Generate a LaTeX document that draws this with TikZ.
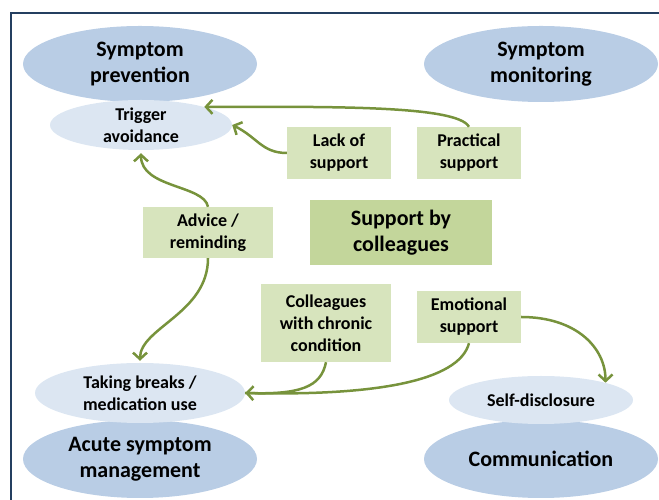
\documentclass[tikz,border=0pt]{standalone}
\usepackage{fontspec}
\setmainfont{Carlito}
\usetikzlibrary{shapes.geometric,arrows.meta}
\definecolor{bigell}{HTML}{B9CDE5}
\definecolor{smallell}{HTML}{DCE6F2}
\definecolor{boxfill}{HTML}{D7E4BD}
\definecolor{mainbox}{HTML}{C3D69B}
\definecolor{arrowc}{HTML}{77933C}
\definecolor{framec}{HTML}{243F60}
\tikzset{
  bigell/.style={ellipse,fill=bigell,inner sep=0pt,minimum width=234pt,minimum height=#1},
  smallell/.style={ellipse,fill=smallell,inner sep=0pt},
  bigtxt/.style={font=\fontsize{22}{26.5}\selectfont\bfseries,align=center,text=black},
  smalltxt/.style={font=\fontsize{18}{22}\selectfont\bfseries,align=center,text=black},
  boxnode/.style={rectangle,fill=boxfill,inner sep=0pt,smalltxt},
  conn/.style={draw=arrowc,line width=2.5pt,-{Straight Barb[length=6.5pt,width=14pt,line width=2.5pt]}},
  plainconn/.style={draw=arrowc,line width=2.5pt}
}
\begin{document}
\begin{tikzpicture}[x=1pt,y=1pt]
\useasboundingbox (0,0) rectangle (659,500);
% frame
\draw[framec,line width=1.5pt] (11,0) -- (11,487) -- (659,487);
% large ellipses
\node[bigell=76pt] (sp) at (140,436) {};
\node[bigtxt] (spt) at (sp) {Symptom\\prevention};
\node[bigell=76pt] (sm) at (541,436) {};
\node[bigtxt] (smt) at (sm) {Symptom\\monitoring};
\node[bigell=78pt] (as) at (140,41) {};
\node[bigtxt] (ast) at (as) {Acute symptom\\management};
\node[bigell=78pt] (cm) at (541,41) {};
\node[bigtxt] (cmt) at (cm) {Communication};
% small ellipses
\node[smallell,minimum width=182pt,minimum height=50pt] (ta) at (141,375) {};
\node[smalltxt] (tat) at (ta) {Trigger\\avoidance};
\node[smallell,minimum width=210pt,minimum height=60pt] (tb) at (140,107) {};
\node[smalltxt] (tbt) at (tb) {Taking breaks /\\medication use};
\node[smallell,minimum width=184pt,minimum height=48pt] (sd) at (541,100) {};
\node[smalltxt] (sdt) at (sd) {Self-disclosure};
% boxes
\node[boxnode,minimum width=104pt,minimum height=52pt] (lack) at (339,347) {Lack of\\support};
\node[boxnode,minimum width=104pt,minimum height=52pt] (prac) at (469,347) {Practical\\support};
\node[rectangle,fill=mainbox,inner sep=0pt,minimum width=182pt,minimum height=65pt,bigtxt] (sbc) at (401,267.5) {Support by\\colleagues};
\node[boxnode,minimum width=130pt,minimum height=51pt] (adv) at (208,267.5) {Advice /\\reminding};
\node[boxnode,minimum width=130pt,minimum height=78pt] (chr) at (326,177) {Colleagues\\with chronic\\condition};
\node[boxnode,minimum width=104pt,minimum height=52pt] (emo) at (469,183) {Emotional\\support};
% connectors
\path[conn] (prac.north) .. controls +(-12,22) and +(120,0) .. (ta.16);
\path[conn] (lack.west) .. controls +(-25,0) and +(25,-12) .. (ta.east);
\path[conn,shorten >=3pt] (adv.north) .. controls +(-4,22) and +(0,-38) .. (ta.south);
\path[conn,shorten >=2pt] (adv.south) .. controls +(0,-55) and +(0,35) .. (tb.north);
\path[plainconn] (chr.south) .. controls +(-5,-25) and +(55,-2) .. (tb.east);
\path[conn] (emo.south) .. controls +(-10,-38) and +(130,-3) .. (tb.east);
\path[conn] (emo.east) .. controls +(55,0) and +(0,35) .. (sd.15);
\end{tikzpicture}
\end{document}
